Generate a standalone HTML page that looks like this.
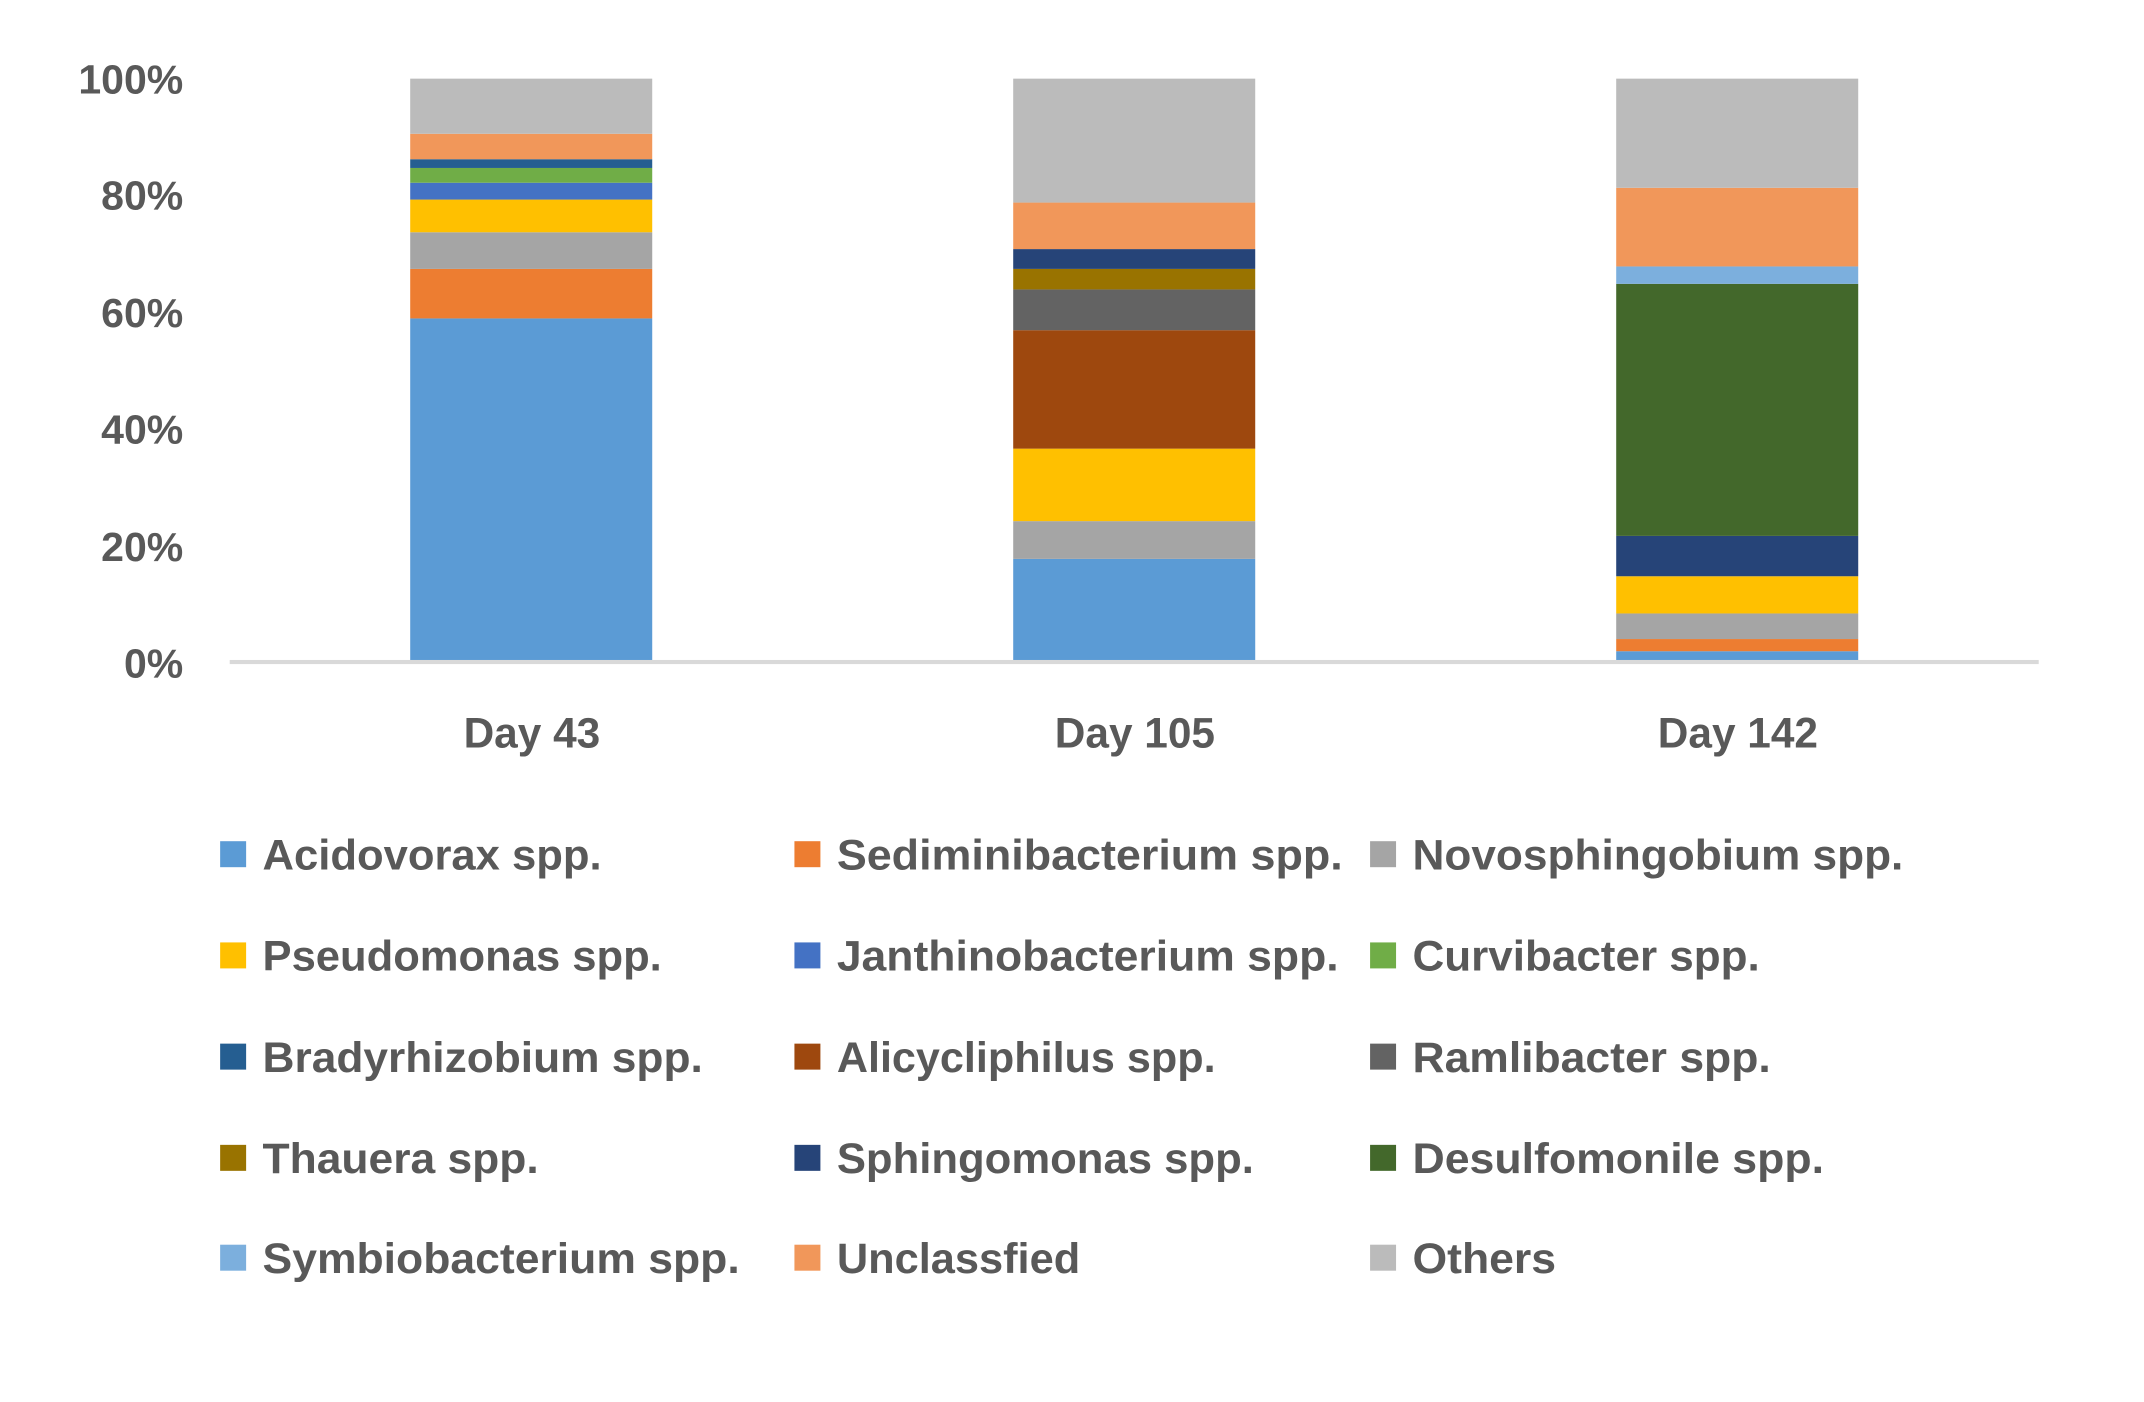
<!DOCTYPE html>
<html><head><meta charset="utf-8"><style>html,body{margin:0;padding:0;background:#fff}svg{display:block}</style></head>
<body>
<svg width="2144" height="1402" viewBox="0 0 1568 1025" preserveAspectRatio="none" xmlns="http://www.w3.org/2000/svg" font-family="Liberation Sans, sans-serif" font-weight="bold" fill="#595959">
<rect width="1568" height="1025" fill="#fff"/>
<g>
<rect x="300" y="232.8" width="177" height="250" fill="#5b9bd5"/>
<rect x="300" y="196.6" width="177" height="36.2" fill="#ed7d31"/>
<rect x="300" y="169.8" width="177" height="26.8" fill="#a5a5a5"/>
<rect x="300" y="145.9" width="177" height="23.9" fill="#ffc000"/>
<rect x="300" y="133.6" width="177" height="12.3" fill="#4472c4"/>
<rect x="300" y="122.8" width="177" height="10.8" fill="#70ad47"/>
<rect x="300" y="116.4" width="177" height="6.4" fill="#255e91"/>
<rect x="300" y="97.8" width="177" height="18.6" fill="#f1975a"/>
<rect x="300" y="57.5" width="177" height="40.3" fill="#bbbbbb"/>
</g>
<g>
<rect x="741" y="408.6" width="177" height="74.2" fill="#5b9bd5"/>
<rect x="741" y="381" width="177" height="27.6" fill="#a5a5a5"/>
<rect x="741" y="328" width="177" height="53" fill="#ffc000"/>
<rect x="741" y="241.4" width="177" height="86.6" fill="#9e480e"/>
<rect x="741" y="211.6" width="177" height="29.8" fill="#636363"/>
<rect x="741" y="196.6" width="177" height="15" fill="#997300"/>
<rect x="741" y="182.1" width="177" height="14.5" fill="#264478"/>
<rect x="741" y="148.1" width="177" height="34" fill="#f1975a"/>
<rect x="741" y="57.5" width="177" height="90.6" fill="#bbbbbb"/>
</g>
<g>
<rect x="1182" y="476.1" width="177" height="6.7" fill="#5b9bd5"/>
<rect x="1182" y="467.2" width="177" height="8.9" fill="#ed7d31"/>
<rect x="1182" y="448.5" width="177" height="18.7" fill="#a5a5a5"/>
<rect x="1182" y="421.3" width="177" height="27.2" fill="#ffc000"/>
<rect x="1182" y="391.8" width="177" height="29.5" fill="#264478"/>
<rect x="1182" y="207.5" width="177" height="184.3" fill="#43682b"/>
<rect x="1182" y="194.8" width="177" height="12.7" fill="#7cafdd"/>
<rect x="1182" y="137.3" width="177" height="57.5" fill="#f1975a"/>
<rect x="1182" y="57.5" width="177" height="79.8" fill="#bbbbbb"/>
</g>
<rect x="168" y="482.5" width="1323" height="3" fill="#d9d9d9"/>
<g font-size="30" text-anchor="end" dominant-baseline="central">
<text x="134" y="58">100%</text>
<text x="134" y="143">80%</text>
<text x="134" y="229">60%</text>
<text x="134" y="314">40%</text>
<text x="134" y="400">20%</text>
<text x="134" y="485">0%</text>
</g>
<g font-size="31" text-anchor="middle" dominant-baseline="central">
<text x="389" y="536">Day 43</text>
<text x="830" y="536">Day 105</text>
<text x="1271" y="536">Day 142</text>
</g>
<g>
<rect x="161" y="615" width="19" height="19" fill="#5b9bd5"/>
<rect x="581" y="615" width="19" height="19" fill="#ed7d31"/>
<rect x="1002" y="615" width="19" height="19" fill="#a5a5a5"/>
<rect x="161" y="689" width="19" height="19" fill="#ffc000"/>
<rect x="581" y="689" width="19" height="19" fill="#4472c4"/>
<rect x="1002" y="689" width="19" height="19" fill="#70ad47"/>
<rect x="161" y="763" width="19" height="19" fill="#255e91"/>
<rect x="581" y="763" width="19" height="19" fill="#9e480e"/>
<rect x="1002" y="763" width="19" height="19" fill="#636363"/>
<rect x="161" y="837" width="19" height="19" fill="#997300"/>
<rect x="581" y="837" width="19" height="19" fill="#264478"/>
<rect x="1002" y="837" width="19" height="19" fill="#43682b"/>
<rect x="161" y="910" width="19" height="19" fill="#7cafdd"/>
<rect x="581" y="910" width="19" height="19" fill="#f1975a"/>
<rect x="1002" y="910" width="19" height="19" fill="#bbbbbb"/>
</g>
<g font-size="31" dominant-baseline="central">
<text x="192" y="625" textLength="248" lengthAdjust="spacingAndGlyphs">Acidovorax spp.</text>
<text x="612" y="625" textLength="370" lengthAdjust="spacingAndGlyphs">Sediminibacterium spp.</text>
<text x="1033" y="625" textLength="359" lengthAdjust="spacingAndGlyphs">Novosphingobium spp.</text>
<text x="192" y="699" textLength="292" lengthAdjust="spacingAndGlyphs">Pseudomonas spp.</text>
<text x="612" y="699" textLength="367" lengthAdjust="spacingAndGlyphs">Janthinobacterium spp.</text>
<text x="1033" y="699" textLength="254" lengthAdjust="spacingAndGlyphs">Curvibacter spp.</text>
<text x="192" y="773" textLength="322" lengthAdjust="spacingAndGlyphs">Bradyrhizobium spp.</text>
<text x="612" y="773" textLength="277" lengthAdjust="spacingAndGlyphs">Alicycliphilus spp.</text>
<text x="1033" y="773" textLength="262" lengthAdjust="spacingAndGlyphs">Ramlibacter spp.</text>
<text x="192" y="847" textLength="202" lengthAdjust="spacingAndGlyphs">Thauera spp.</text>
<text x="612" y="847" textLength="305" lengthAdjust="spacingAndGlyphs">Sphingomonas spp.</text>
<text x="1033" y="847" textLength="301" lengthAdjust="spacingAndGlyphs">Desulfomonile spp.</text>
<text x="192" y="920" textLength="349" lengthAdjust="spacingAndGlyphs">Symbiobacterium spp.</text>
<text x="612" y="920" textLength="178" lengthAdjust="spacingAndGlyphs">Unclassfied</text>
<text x="1033" y="920" textLength="105" lengthAdjust="spacingAndGlyphs">Others</text>
</g>
</svg>
</body></html>
